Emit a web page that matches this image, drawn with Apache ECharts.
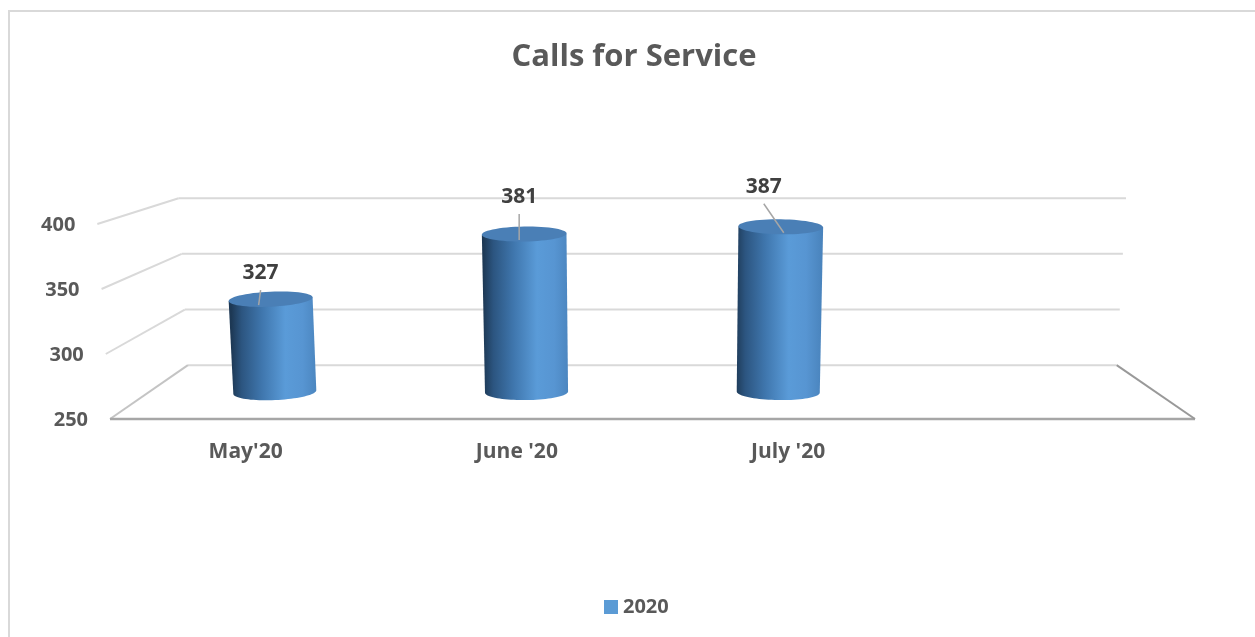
<!DOCTYPE html>
<html><head><meta charset="utf-8">
<script src="https://cdn.jsdelivr.net/npm/echarts@6/dist/echarts.min.js"></script>
<style>html,body{margin:0;padding:0;background:#fff}#chart{width:1255px;height:637px}</style>
</head><body><div id="chart"></div>
<script>
// ---- data ----
const categories = ["May'20", "June '20", "July '20", ""];
const seriesName = "2020";
const calls2020 = [327, 381, 387];
const yTicks = [250, 300, 350, 400];
const yMin = 250, yMax = 400, yStep = 50;

// ---- layout / style (not data) ----
const VP = [651, 45];      // perspective vanishing point
const BACK = 0.856;        // back-plane scale
const K = 0.00012;         // vertical convergence
const TILT = 0.00012;      // ellipse tilt per px from centre
const CAP_RY = 7.5;
const labelNudge = [[-10, -26, -12], [-5, -37, -5], [-17, -40, 3]];
const FONT = '"Open Sans", "Noto Sans", sans-serif';

function project(x, y, d, floorY) {
  const s = 1 - d * (1 - BACK);
  let px = VP[0] + s * (x - VP[0]);
  const py = VP[1] + s * (y - VP[1]);
  const fy = VP[1] + s * (floorY - VP[1]);
  px = VP[0] + (px - VP[0]) * (1 + K * (fy - py));
  return [px, py];
}

function ellipsePts(c, a, ry, from, to, n) {
  const len = Math.hypot(a[0], a[1]);
  const b = [-a[1] / len * ry, a[0] / len * ry];
  const pts = [];
  for (let k = 0; k <= n; k++) {
    const t = from + (to - from) * k / n;
    pts.push([c[0] + a[0] * Math.cos(t) + b[0] * Math.sin(t), c[1] + a[1] * Math.cos(t) + b[1] * Math.sin(t)]);
  }
  return pts;
}

function renderFrame(params, api) {
  const cs = params.coordSys;
  const v = api.value(1);
  const floorY = cs.y + cs.height;
  const y = api.coord([0, v])[1];
  const xl = cs.x, xr = cs.x + cs.width;
  const fl = project(xl, y, 0, floorY);
  const bl = project(xl, y, 1, floorY);
  const br = project(xr, y, 1, floorY);
  const fr = project(xr, y, 0, floorY);
  const isFloor = v === yMin;
  const children = [
    {type: 'line', shape: {x1: bl[0], y1: bl[1], x2: br[0], y2: br[1]}, style: {stroke: '#d9d9d9', lineWidth: 2}},
    {type: 'line', shape: {x1: fl[0], y1: fl[1], x2: bl[0], y2: bl[1]}, style: {stroke: isFloor ? '#c4c4c4' : '#d9d9d9', lineWidth: 2}},
    {type: 'text', style: {text: String(v), x: fl[0] - 22, y: fl[1] + 1, align: 'right', textAlign: 'right', verticalAlign: 'middle', textVerticalAlign: 'middle', fontSize: 20, fontWeight: 'bold', fontFamily: FONT, fill: '#595959'}}
  ];
  if (isFloor) {
    children.push({type: 'line', shape: {x1: fl[0], y1: fl[1], x2: fr[0], y2: fr[1]}, style: {stroke: '#a6a6a6', lineWidth: 2.5}});
    children.push({type: 'line', shape: {x1: br[0], y1: br[1], x2: fr[0], y2: fr[1]}, style: {stroke: '#999999', lineWidth: 2}});
  }
  return {type: 'group', children};
}

function renderCylinder(params, api) {
  const cs = params.coordSys;
  const i = api.value(0), v = api.value(1);
  const floorY = cs.y + cs.height;
  const top = api.coord([i, v]);
  const bw = api.size([1, 0])[0] * 0.33;
  const xc = top[0];
  const tl = project(xc - bw / 2, top[1], 0.5, floorY);
  const tr = project(xc + bw / 2, top[1], 0.5, floorY);
  const bl = project(xc - bw / 2, floorY, 0.5, floorY);
  const br = project(xc + bw / 2, floorY, 0.5, floorY);
  const tc = [(tl[0] + tr[0]) / 2, (tl[1] + tr[1]) / 2];
  const bc = [(bl[0] + br[0]) / 2, (bl[1] + br[1]) / 2];
  const angT = -TILT * (VP[0] - tc[0]);
  const angB = -TILT * (VP[0] - bc[0]);
  const aT = [(tr[0] - tl[0]) / 2 * Math.cos(angT), (tr[0] - tl[0]) / 2 * Math.sin(angT)];
  const aB = [(br[0] - bl[0]) / 2 * Math.cos(angB), (br[0] - bl[0]) / 2 * Math.sin(angB)];
  const topL = [tc[0] - aT[0], tc[1] - aT[1]];
  const topR = [tc[0] + aT[0], tc[1] + aT[1]];
  const bottomFront = ellipsePts(bc, aB, CAP_RY + 0.5, Math.PI, 0, 40);
  const side = [topL].concat(bottomFront, [topR]);
  const cap = ellipsePts(tc, aT, CAP_RY, 0, Math.PI * 2, 60);
  const nd = labelNudge[i] || [0, -35, 0];
  const lx = tc[0] + nd[0], ly = tc[1] + nd[1];
  const grad = {
    type: 'linear', global: true, x: bl[0] - 2, y: 0, x2: br[0] + 2, y2: 0,
    colorStops: [
      {offset: 0, color: '#1d3854'},
      {offset: 0.12, color: '#2c5580'},
      {offset: 0.35, color: '#3f76ad'},
      {offset: 0.62, color: '#5a9bd8'},
      {offset: 0.82, color: '#5795d2'},
      {offset: 1, color: '#4a84bd'}
    ]
  };
  return {
    type: 'group',
    children: [
      {type: 'polygon', shape: {points: side}, style: {fill: grad}},
      {type: 'polygon', shape: {points: cap}, style: {fill: '#4a7fb6'}},
      {type: 'line', shape: {x1: lx, y1: ly + 17, x2: tc[0] + nd[2], y2: tc[1] + 6}, style: {stroke: '#a6a6a6', lineWidth: 1.5}},
      {type: 'text', style: {text: String(v), x: lx, y: ly, align: 'center', textAlign: 'center', verticalAlign: 'middle', textVerticalAlign: 'middle', fontSize: 21, fontWeight: 'bold', fontFamily: FONT, fill: '#404040'}}
    ]
  };
}

const chart = echarts.init(document.getElementById('chart'), null, {renderer: 'canvas'});
chart.setOption({
  backgroundColor: '#ffffff',
  animation: false,
  title: {
    text: 'Calls for Service', left: 629, textAlign: 'center', top: 37,
    textStyle: {fontFamily: FONT, fontWeight: 'bold', fontSize: 31, color: '#595959'}
  },
  legend: {
    data: [seriesName], left: 599, top: 592, icon: 'rect', itemWidth: 14, itemHeight: 14,
    textStyle: {fontFamily: FONT, fontWeight: 'bold', fontSize: 20, color: '#595959'}
  },
  graphic: [{type: 'rect', shape: {x: 9, y: 11, width: 1300, height: 700}, style: {fill: 'none', stroke: '#d9d9d9', lineWidth: 2}, silent: true}],
  grid: {left: 110, right: 60, top: 224, bottom: 218},
  xAxis: {
    type: 'category', data: categories,
    axisLine: {show: false}, axisTick: {show: false}, splitLine: {show: false},
    axisLabel: {margin: 23, fontFamily: FONT, fontWeight: 'bold', fontSize: 21, color: '#595959'}
  },
  yAxis: {type: 'value', min: yMin, max: yMax, interval: yStep, show: false},
  series: [
    {type: 'custom', name: 'frame', z: 1, clip: false, silent: true, renderItem: renderFrame,
     data: yTicks.map(v => [0, v])},
    {type: 'custom', name: seriesName, z: 2, clip: false, itemStyle: {color: '#5b9bd5'}, renderItem: renderCylinder,
     data: calls2020.map((v, i) => [i, v])}
  ]
});
</script></body></html>
